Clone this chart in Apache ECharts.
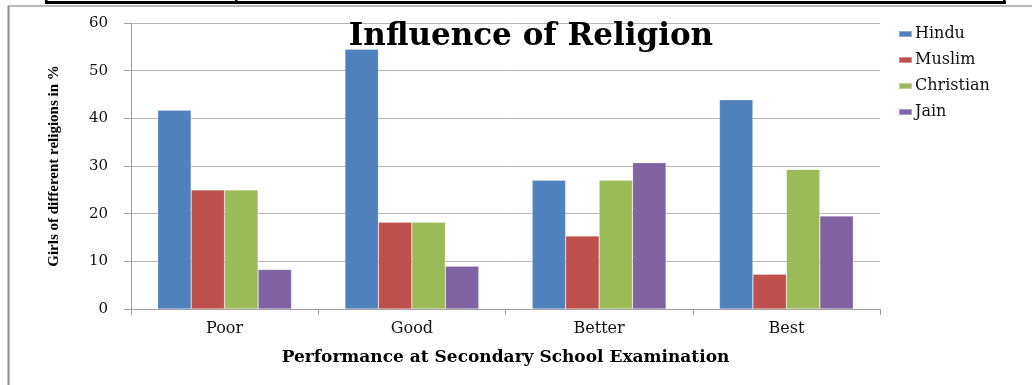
<!DOCTYPE html>
<html>
<head>
<meta charset="utf-8">
<script src="https://cdn.jsdelivr.net/npm/echarts@6/dist/echarts.min.js"></script>
<style>
  html, body { margin: 0; padding: 0; background: #fff; }
  #chart { width: 1032px; height: 385px; }
</style>
</head>
<body>
<div id="chart"></div>
<script>
// Share of girls from each religion by exam performance (%)
const categories = ['Poor', 'Good', 'Better', 'Best'];
const hindu     = [41.7, 54.5, 27.0, 43.9];
const muslim    = [25.0, 18.2, 15.3, 7.3];
const christian = [25.0, 18.2, 27.0, 29.3];
const jain      = [8.3, 9.0, 30.7, 19.5];
const yTicks    = [0, 10, 20, 30, 40, 50, 60];

const seriesDefs = [
  { name: 'Hindu', data: hindu, color: '#4f81bd' },
  { name: 'Muslim', data: muslim, color: '#c0504d' },
  { name: 'Christian', data: christian, color: '#9bbb59' },
  { name: 'Jain', data: jain, color: '#8064a2' }
];

const serif = 'DejaVu Serif';
const chart = echarts.init(document.getElementById('chart'), null, { renderer: 'canvas' });

chart.setOption({
  animation: false,
  backgroundColor: '#ffffff',
  title: {
    text: 'Influence of Religion',
    left: 526,
    top: 16,
    textAlign: 'center',
    textStyle: { fontFamily: serif, fontWeight: 'bold', fontSize: 31, color: '#000' }
  },
  legend: {
    orient: 'vertical',
    left: 893,
    top: 21,
    itemWidth: 13,
    itemHeight: 6,
    itemGap: 10,
    icon: 'rect',
    textStyle: { fontFamily: serif, fontSize: 16, color: '#111', padding: [0, 0, 0, -2] },
    data: seriesDefs.map(s => s.name)
  },
  grid: { left: 131, right: 152, top: 23, bottom: 76, containLabel: false },
  xAxis: {
    type: 'category',
    data: categories,
    name: 'Performance at Secondary School Examination',
    nameLocation: 'middle',
    nameGap: 40,
    nameTextStyle: { fontFamily: serif, fontWeight: 'bold', fontSize: 17, color: '#000' },
    axisLine: { lineStyle: { color: '#a0a0a0', width: 1 } },
    axisTick: { show: true, length: 6, alignWithLabel: false, lineStyle: { color: '#a0a0a0' } },
    axisLabel: { fontFamily: serif, fontSize: 16, color: '#111', margin: 12 }
  },
  yAxis: {
    type: 'value',
    min: yTicks[0],
    max: yTicks[yTicks.length - 1],
    interval: yTicks[1] - yTicks[0],
    name: 'Girls of different religions in %',
    nameLocation: 'middle',
    nameRotate: 90,
    nameGap: 69,
    nameTextStyle: { fontFamily: 'Liberation Serif', fontWeight: 'bold', fontSize: 15, color: '#000' },
    axisLine: { show: true, lineStyle: { color: '#a0a0a0', width: 1 } },
    axisTick: { show: true, length: 7, lineStyle: { color: '#a0a0a0' } },
    axisLabel: { fontFamily: serif, fontSize: 15, color: '#111', margin: 23 },
    splitLine: { show: true, lineStyle: { color: '#b4b4b4', width: 1 } }
  },
  series: seriesDefs.map(s => ({
    name: s.name,
    type: 'bar',
    data: s.data,
    barGap: '0%',
    barCategoryGap: '28.5%',
    itemStyle: { color: s.color, borderColor: 'rgba(255,255,255,0.35)', borderWidth: 0.6 }
  })),
  graphic: [
    // page table rule above the chart
    { type: 'rect', silent: true, shape: { x: 45, y: 1, width: 961, height: 3 }, style: { fill: '#000' } },
    { type: 'rect', silent: true, shape: { x: 45, y: 0, width: 2.5, height: 4 }, style: { fill: '#000' } },
    { type: 'rect', silent: true, shape: { x: 235, y: 0, width: 2.5, height: 4 }, style: { fill: '#000' } },
    { type: 'rect', silent: true, shape: { x: 1003, y: 0, width: 2.5, height: 4 }, style: { fill: '#000' } },
    // chart frame
    { type: 'line', silent: true, shape: { x1: 8, y1: 6, x2: 1032, y2: 6 }, style: { stroke: '#b8b8b8', lineWidth: 2 } },
    { type: 'line', silent: true, shape: { x1: 8.5, y1: 6, x2: 8.5, y2: 385 }, style: { stroke: '#8c8c8c', lineWidth: 2 } }
  ]
});
</script>
</body>
</html>
